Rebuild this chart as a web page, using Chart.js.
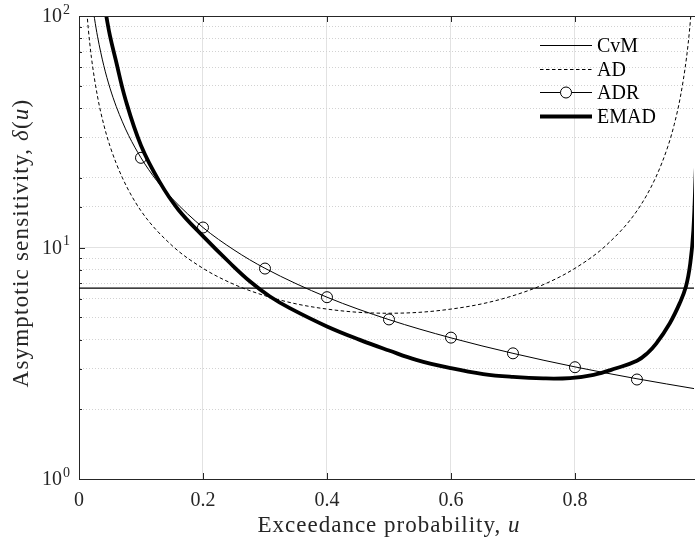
<!DOCTYPE html>
<html>
<head>
<meta charset="utf-8">
<script src="https://cdn.jsdelivr.net/npm/chart.js@4.4.1/dist/chart.umd.min.js"></script>
<style>
  html, body { margin: 0; padding: 0; background: #fff; }
  canvas { display: block; }
</style>
</head>
<body>
<canvas id="chart" width="695" height="539"></canvas>
<script>
// series names and tick values
const seriesNames = ["CvM", "AD", "ADR", "EMAD"];
const xTicks = [0, 0.2, 0.4, 0.6, 0.8];
const yMajorTicks = [1, 10, 100];

// CvM: flat line
const cvmU = [0, 1];
const cvmV = [6.68, 6.68];

// AD (dashed)
const adU = [0.012, 0.015, 0.02, 0.03, 0.04, 0.05, 0.07, 0.1, 0.15, 0.2, 0.25, 0.3, 0.35, 0.4, 0.45, 0.5,
             0.55, 0.6, 0.65, 0.7, 0.75, 0.8, 0.85, 0.9, 0.93, 0.95, 0.96, 0.97, 0.98, 0.985, 0.988];
const adV = [109.6, 88.0, 66.3, 44.7, 33.9, 27.4, 20.0, 14.4, 10.2, 8.13, 6.93, 6.19, 5.71, 5.42, 5.25, 5.2,
             5.25, 5.42, 5.71, 6.19, 6.93, 8.13, 10.2, 14.4, 20.0, 27.4, 33.9, 44.7, 66.3, 88.0, 109.6];

// ADR line and its circle markers
const adrU = [0.022, 0.025, 0.03, 0.04, 0.05, 0.06, 0.07, 0.08, 0.1, 0.125, 0.15, 0.2, 0.25, 0.3, 0.4, 0.5, 0.6, 0.7, 0.8, 0.9, 0.995];
const adrV = [110.9, 97.6, 81.3, 61.0, 48.8, 40.7, 34.9, 30.5, 24.4, 19.5, 16.3, 12.2, 9.76, 8.13, 6.1, 4.88, 4.07, 3.49, 3.05, 2.71, 2.45];
const adrMarkU = [0.1, 0.2, 0.3, 0.4, 0.5, 0.6, 0.7, 0.8, 0.9];
const adrMarkV = [24.4, 12.2, 8.11, 6.1, 4.89, 4.08, 3.49, 3.04, 2.69];

// EMAD (thick)
const emadU = [0.04, 0.044, 0.05, 0.059, 0.075, 0.1, 0.13, 0.16, 0.2, 0.244, 0.276, 0.308, 0.34, 0.4, 0.453, 0.5,
               0.544, 0.6, 0.652, 0.7, 0.749, 0.792, 0.83, 0.865, 0.9, 0.917, 0.931, 0.953, 0.969, 0.979, 0.986, 0.991, 0.995];
const emadV = [115, 100, 82, 65, 43.6, 27.6, 19.2, 14.6, 11.2, 8.55, 7.13, 6.14, 5.47, 4.56, 3.99, 3.59,
               3.27, 3.01, 2.84, 2.76, 2.72, 2.73, 2.82, 3.0, 3.24, 3.5, 3.84, 4.71, 5.75, 6.78, 8.55, 11.9, 22];

const pts = (us, vs) => us.map((u, i) => ({ x: u, y: vs[i] }));
const SERIF = '"Liberation Serif", "Times New Roman", serif';
const INK = "#262626";

const isDecade = (v) => {
    const lg = Math.log10(v);
    return Math.abs(lg - Math.round(lg)) < 1e-9;
};

function font(size, italic) {
    return (italic ? "italic " : "") + size + "px " + SERIF;
}

function richWidth(ctx, parts, size) {
    let w = 0;
    parts.forEach(([t, it]) => {
        ctx.font = font(size, it);
        w += ctx.measureText(t).width;
    });
    return w;
}

function drawRich(ctx, parts, size, cx, cy) {
    let x = cx - richWidth(ctx, parts, size) / 2;
    ctx.textAlign = "left";
    ctx.textBaseline = "middle";
    parts.forEach(([t, it]) => {
        ctx.font = font(size, it);
        ctx.fillText(t, x, cy);
        x += ctx.measureText(t).width;
    });
}

const framePlugin = {
    id: "frame",
    afterDraw(chart) {
        const { ctx, chartArea: a, scales } = chart;
        const xs = scales.x, ys = scales.y;
        ctx.save();
        ctx.strokeStyle = INK;
        ctx.fillStyle = INK;
        ctx.lineWidth = 1;

        const seg = (x1, y1, x2, y2) => {
            ctx.beginPath();
            ctx.moveTo(x1, y1);
            ctx.lineTo(x2, y2);
            ctx.stroke();
        };

        // top box line
        seg(a.left, a.top + 0.5, a.right + 1, a.top + 0.5);

        // inward ticks
        xTicks.forEach((v) => {
            const px = Math.round(xs.getPixelForValue(v)) + 0.5;
            seg(px, a.bottom, px, a.bottom - 6);
            seg(px, a.top, px, a.top + 6);
        });
        ys.ticks.forEach((t) => {
            const py = Math.round(ys.getPixelForValue(t.value)) + 0.5;
            seg(a.left, py, a.left + (isDecade(t.value) ? 6 : 3), py);
        });

        // y tick labels 10^n
        yMajorTicks.forEach((v) => {
            const py = ys.getPixelForValue(v);
            ctx.textBaseline = "middle";
            ctx.textAlign = "right";
            ctx.font = font(20, false);
            ctx.fillText("10", 62, py + 1);
            ctx.textAlign = "left";
            ctx.font = font(14, false);
            ctx.fillText(String(Math.round(Math.log10(v))), 63, py - 6);
        });

        // axis titles
        ctx.letterSpacing = "1px";
        drawRich(ctx, [["Exceedance probability, ", false], ["u", true]], 23, 389, 526);
        ctx.save();
        ctx.letterSpacing = "1.2px";
        ctx.translate(22, 243);
        ctx.rotate(-Math.PI / 2);
        drawRich(ctx, [["Asymptotic sensitivity, ", false], ["\u03b4", true], ["(", false], ["u", true], [")", false]], 23, 0, 0);
        ctx.restore();
        ctx.letterSpacing = "0px";

        // legend
        const rows = [45, 69, 92, 116];
        const styles = [
            { w: 1, dash: [] },
            { w: 1, dash: [3.5, 2.5] },
            { w: 1, dash: [], marker: true },
            { w: 4, dash: [] }
        ];
        seriesNames.forEach((name, i) => {
            const y = rows[i] + 0.5;
            ctx.strokeStyle = "#000";
            ctx.lineWidth = styles[i].w;
            ctx.setLineDash(styles[i].dash);
            seg(540, y, 592, y);
            ctx.setLineDash([]);
            if (styles[i].marker) {
                ctx.lineWidth = 1;
                ctx.beginPath();
                ctx.arc(566, y, 5.5, 0, Math.PI * 2);
                ctx.fillStyle = "#fff";
                ctx.fill();
                ctx.stroke();
            }
            ctx.fillStyle = "#000";
            ctx.font = font(20, false);
            ctx.textAlign = "left";
            ctx.textBaseline = "middle";
            ctx.fillText(name, 597, y + 1);
        });
        ctx.restore();
    }
};

const ctx = document.getElementById("chart").getContext("2d");
const chart = new Chart(ctx, {
    type: "line",
    data: {
        datasets: [
            {
                label: seriesNames[0],
                data: pts(cvmU, cvmV),
                borderColor: "#000",
                borderWidth: 1.2,
                pointRadius: 0,
                clip: 0
            },
            {
                label: seriesNames[1],
                data: pts(adU, adV),
                borderColor: "#000",
                borderWidth: 1,
                borderDash: [3.5, 2.5],
                pointRadius: 0,
                cubicInterpolationMode: "monotone",
                clip: 0
            },
            {
                label: seriesNames[2],
                data: pts(adrU, adrV),
                borderColor: "#000",
                borderWidth: 1,
                pointRadius: 0,
                cubicInterpolationMode: "monotone",
                clip: 0
            },
            {
                label: seriesNames[2] + " markers",
                data: pts(adrMarkU, adrMarkV),
                showLine: false,
                borderColor: "#000",
                backgroundColor: "rgba(0,0,0,0)",
                borderWidth: 1,
                pointRadius: 5.5,
                pointHoverRadius: 5.5,
                clip: 0
            },
            {
                label: seriesNames[3],
                data: pts(emadU, emadV),
                borderColor: "#000",
                borderWidth: 3.8,
                pointRadius: 0,
                tension: 0.4,
                clip: 0
            }
        ]
    },
    options: {
        responsive: false,
        animation: false,
        events: [],
        layout: { autoPadding: false, padding: { top: 16, right: 1, left: 0, bottom: 0 } },
        plugins: {
            legend: { display: false },
            tooltip: { enabled: false }
        },
        scales: {
            x: {
                type: "linear",
                min: 0,
                max: 0.992,
                afterBuildTicks: (s) => { s.ticks = xTicks.map((v) => ({ value: v })); },
                afterFit: (s) => {
                    s.height = 60;
                    s.paddingLeft = 0;
                    s.paddingRight = 0;
                },
                ticks: {
                    color: INK,
                    font: { family: SERIF, size: 20 },
                    padding: 10,
                    maxRotation: 0,
                    callback: (v) => String(Math.round(v * 10) / 10)
                },
                grid: { color: "#e2e2e2", lineWidth: 1, drawTicks: false },
                border: { display: true, color: INK, width: 1 }
            },
            y: {
                type: "logarithmic",
                min: 1,
                max: 100,
                afterFit: (s) => { s.width = 79; },
                ticks: { display: false },
                grid: {
                    drawTicks: false,
                    lineWidth: 1,
                    color: (c) => (c.tick && isDecade(c.tick.value) ? "#e2e2e2" : "#d2d2d2")
                },
                border: {
                    display: true,
                    color: INK,
                    width: 1,
                    dash: (c) => (c.tick && !isDecade(c.tick.value) ? [1, 2] : [])
                }
            }
        }
    },
    plugins: [framePlugin]
});
</script>
</body>
</html>
